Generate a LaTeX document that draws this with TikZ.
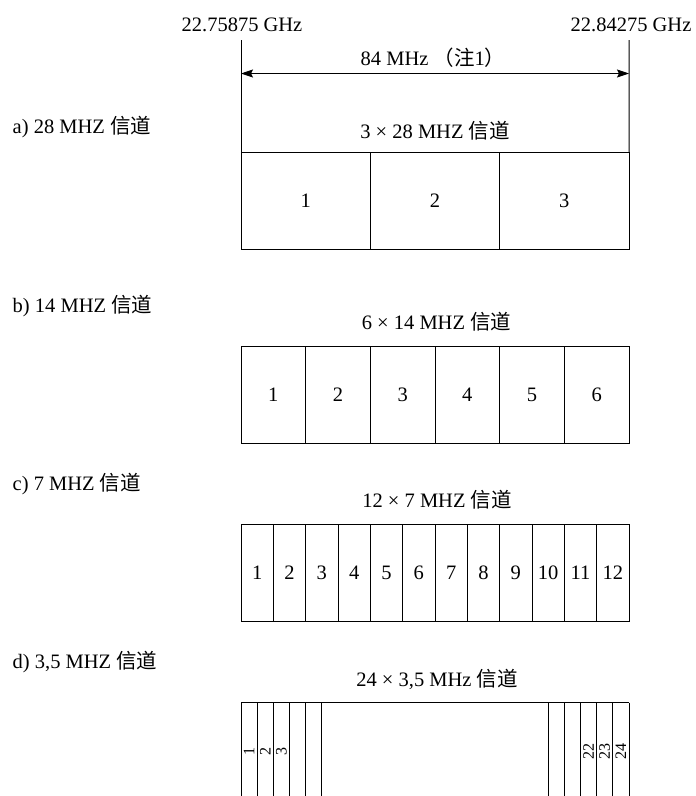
\documentclass[tikz,border=0pt]{standalone}
\usepackage{fontspec}
\setmainfont{Liberation Serif}
\newfontfamily\cjk{Noto Sans CJK SC}
\usetikzlibrary{arrows.meta}
\begin{document}
\begin{tikzpicture}[x=1pt,y=-1pt,line width=1pt,
  every node/.style={inner sep=0pt,outer sep=0pt,font=\fontsize{20.5}{24}\selectfont},
  lbl/.style={anchor=base west},
  ttl/.style={anchor=base},
  cell/.style={draw,rectangle,anchor=north west},
  rotnum/.style={rotate=90,font=\fontsize{16}{19}\selectfont},
  dimarrow/.style={{Stealth[length=12pt,width=8pt,inset=2pt]}-{Stealth[length=12pt,width=8pt,inset=2pt]}}
]
\useasboundingbox (0,0) rectangle (696,796);

% top frequency marks
\node[ttl] (fL) at (242,31) {22.75875 GHz};
\node[ttl] (fR) at (631,31) {22.84275 GHz};
\coordinate (Ltop) at (241,40);
\coordinate (Rtop) at (629,40);
\coordinate (AL) at (241,73.5);
\coordinate (AR) at (629,73.5);
\draw[dimarrow] (AL) -- (AR);
\node[ttl] (bw) at (433,65.5) {84 MHz {\cjk （注}1{\cjk ）}};

% a) 28 MHz
\node[lbl] (la) at (12.7,133) {a) 28 MHZ {\cjk 信道}};
\node[ttl] (ta) at (435,138.5) {3 × 28 MHZ {\cjk 信道}};
\foreach \i in {1,...,3}
  \node[cell,minimum width=129.333pt,minimum height=96.6pt] (a\i) at ({241+(\i-1)*388/3},152.5) {\i};
\draw (Ltop) -- (a1.north west);
\draw (Rtop) -- (a3.north east);

% b) 14 MHz
\node[lbl] (lb) at (12.7,312) {b) 14 MHZ {\cjk 信道}};
\node[ttl] (tb) at (436.5,329) {6 × 14 MHZ {\cjk 信道}};
\foreach \i in {1,...,6}
  \node[cell,minimum width=64.667pt,minimum height=96.6pt] (b\i) at ({241+(\i-1)*388/6},346.7) {\i};

% c) 7 MHz
\node[lbl] (lc) at (12.7,490.7) {c) 7 MHZ {\cjk 信道}};
\node[ttl] (tc) at (437,507.7) {12 × 7 MHZ {\cjk 信道}};
\foreach \i in {1,...,12}
  \node[cell,minimum width=32.333pt,minimum height=96.7pt] (c\i) at ({241+(\i-1)*388/12},524.3) {\i};

% d) 3,5 MHz
\node[lbl] (ld) at (12.7,668) {d) 3,5 MHZ {\cjk 信道}};
\node[ttl] (td) at (437,686) {24 × 3,5 MHz {\cjk 信道}};
\foreach \i in {0,...,24} {
  \coordinate (dt\i) at ({241+\i*388/24},702.7);
  \coordinate (db\i) at ({241+\i*388/24},796);
}
\draw (dt0) -- (dt24);
\foreach \i in {0,...,5,19,20,...,24}
  \draw (dt\i) -- (db\i);
\foreach \i in {1,2,3,22,23,24}
  \node[rotnum] (dn\i) at ({241+(\i-0.5)*388/24},751) {\i};
\end{tikzpicture}
\end{document}
